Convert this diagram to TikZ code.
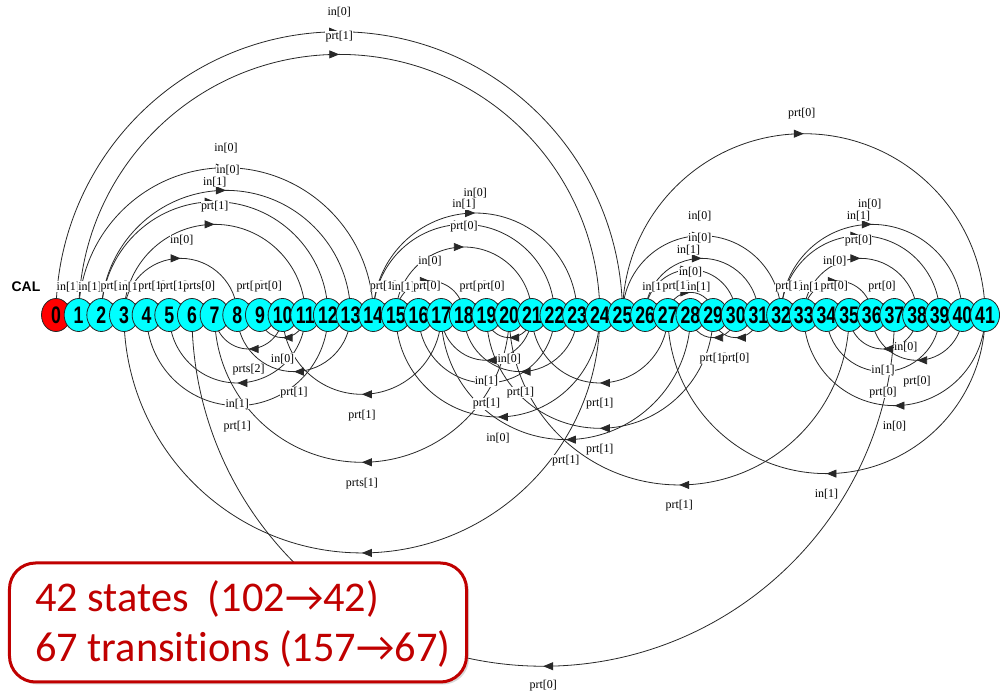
\documentclass[tikz,border=0pt]{standalone}
\usepackage{fontspec}
\setmainfont{Liberation Serif}
\newfontfamily\numfont[FakeStretch=0.74]{Liberation Sans}
\newfontfamily\headfont{Liberation Sans}
\newfontfamily\notefont[Ligatures=NoCommon]{Carlito}
\usetikzlibrary{shapes.geometric,decorations.markings,arrows.meta,shadows}
\pgfdeclarelayer{bg}
\pgfdeclarelayer{edges}
\pgfdeclarelayer{labels}
\pgfdeclarelayer{front}
\pgfsetlayers{bg,edges,labels,main,front}
\definecolor{nodecyan}{RGB}{0,255,255}
\definecolor{nodered}{RGB}{255,0,0}
\definecolor{notered}{RGB}{192,0,0}
\definecolor{wire}{RGB}{40,40,40}

\begin{document}
\begin{tikzpicture}[x=1bp,y=1bp,
  state/.style={ellipse, draw=black!85, line width=0.8bp, fill=nodecyan,
    minimum width=29bp, minimum height=33bp, inner sep=0pt,
    font=\numfont\bfseries\fontsize{24}{24}\selectfont},
  wirestyle/.style={draw=wire, line width=0.8bp, postaction={decorate},
    decoration={markings, mark=at position 0.5 with {\arrow{Triangle[length=10bp,width=8bp]}}}},
  elabel/.style={fill=white, inner sep=0.4bp, font=\fontsize{12}{12}\selectfont},
  notetext/.style={anchor=base west, inner sep=0pt, text=notered,
    font=\notefont\fontsize{42.5}{42.5}\selectfont},
]
\useasboundingbox (0,0) rectangle (1008,691);
\begin{pgfonlayer}{bg}
  \fill[white] (0,0) rectangle (1008,691);
\end{pgfonlayer}

% states, left to right so that each one overlaps its left neighbour
\node[state, fill=nodered] (n0) at (56,376) {0};
\foreach \i in {1,...,41} {
  \node[state] (n\i) at ({56+22.66*\i},376) {\i};
}
\node[font=\headfont\bfseries\fontsize{14}{14}\selectfont] (cal) at (26,404) {CAL};

% forward transitions: arcs above the row
\begin{pgfonlayer}{edges}
\foreach \p/\q in {0/25,1/24,1/14,2/13,2/12,3/11,3/8,14/23,14/22,15/21,15/18,
    25/41,25/32,26/31,26/30,27/29,32/40,32/39,33/38,33/36,
    0/1,1/2,2/3,3/4,4/5,5/6,6/7,8/9,9/10,14/15,15/16,16/17,18/19,19/20,
    26/27,27/28,28/29,32/33,33/34,34/35,36/37} {
  \pgfmathsetmacro\rad{11.33*(\q-\p)}
  \draw[wirestyle] (n\p.center) arc[start angle=180,end angle=0,radius=\rad bp];
}
% backward transitions: arcs below the row
\foreach \p/\q in {11/9,10/7,13/8,11/5,12/4,17/10,20/7,24/3,37/6,21/19,21/17,
    23/18,27/21,22/16,24/15,29/19,28/17,35/20,41/27,41/33,38/35,40/36,39/34,
    38/37,30/28,31/29} {
  \pgfmathsetmacro\rad{11.33*(\p-\q)}
  \draw[wirestyle] (n\p.center) arc[start angle=0,end angle=-180,radius=\rad bp];
}
\end{pgfonlayer}

% transition labels
\begin{pgfonlayer}{labels}
\foreach \p/\q/\lab/\dx/\dy in {0/25/in[0]/0/0, 1/24/prt[1]/0/-2, 1/14/in[0]/0/0,
    2/13/in[0]/2/0, 2/12/in[1]/0/0, 3/11/prt[1]/0/-2, 3/8/in[0]/1/-2,
    14/23/in[0]/0/0, 14/22/in[1]/0/0, 15/21/prt[0]/0/0, 15/18/in[0]/0/0,
    25/41/prt[0]/-2/0, 25/32/in[0]/-2/0, 26/31/in[0]/-2/0, 26/30/in[1]/-2/0,
    27/29/in[0]/0/0, 32/40/in[0]/-2/0, 32/39/in[1]/-2/0, 33/38/prt[0]/-2/-2,
    33/36/in[0]/-3/0,
    0/1/in[1]/1/-3, 1/2/in[1]/0/-3, 2/3/prt[1]/1.5/-3, 3/4/in[1]/-5/-3,
    4/5/prt[1]/-6/-3, 5/6/prt[1]/-7/-3, 6/7/prts[0]/-4/-3, 8/9/prt[1]/1.5/-3,
    9/10/prt[0]/-3/-3, 14/15/prt[1]/-1/-3, 15/16/in[1]/-4/-3, 16/17/prt[0]/-3/-3,
    18/19/prt[1]/-2/-3, 19/20/prt[0]/-7/-3, 26/27/in[1]/-2.5/-3,
    27/28/prt[1]/-3/-3, 28/29/in[1]/-3/-3, 32/33/prt[1]/-3.5/-3,
    33/34/in[1]/-3.5/-3, 34/35/prt[0]/-3.5/-3, 36/37/prt[0]/-1/-3} {
  \pgfmathsetmacro\cx{56+11.33*(\p+\q)}
  \pgfmathsetmacro\ly{376+11.33*(\q-\p)+20}
  \node[elabel] (t\p-\q) at ({\cx+\dx},{\ly+\dy}) {\lab};
}
\foreach \p/\q/\lab/\dx/\dy in {11/9/in[0]/0/0, 10/7/prts[2]/0/0, 13/8/prt[1]/0/0,
    11/5/in[1]/0/0, 12/4/prt[1]/0/0, 17/10/prt[1]/0/0, 20/7/prts[1]/0/0,
    37/6/prt[0]/0/2, 21/19/in[0]/0/0, 21/17/in[1]/0/0, 23/18/prt[1]/0/0,
    27/21/prt[1]/0/0, 22/16/prt[1]/0/0, 24/15/in[0]/0/0, 29/19/prt[1]/0/0,
    28/17/prt[1]/0/0, 35/20/prt[1]/0/0, 41/27/in[1]/0/0, 41/33/in[0]/0/0,
    38/35/in[1]/0/0, 40/36/prt[0]/0/0, 39/34/prt[0]/0/0, 38/37/in[0]/0/0,
    30/28/prt[1]/0/0, 31/29/prt[0]/0/0} {
  \pgfmathsetmacro\cx{56+11.33*(\p+\q)}
  \pgfmathsetmacro\ly{376-11.33*(\p-\q)-21}
  \node[elabel] (b\p-\q) at ({\cx+\dx},{\ly+\dy}) {\lab};
}
\end{pgfonlayer}

% summary box
\begin{pgfonlayer}{front}
\node[draw=notered, line width=3bp, fill=white, rounded corners=26bp,
      minimum width=457bp, minimum height=119bp,
      drop shadow={opacity=0.3, shadow xshift=2.5bp, shadow yshift=-2.5bp}]
      (note) at (238,68.5) {};
\node[notetext] (line1) at (35,79) {42 states\ \ (102→42)};
\node[notetext] (line2) at (35,29) {67 transitions (157→67)};
\end{pgfonlayer}
\end{tikzpicture}
\end{document}
